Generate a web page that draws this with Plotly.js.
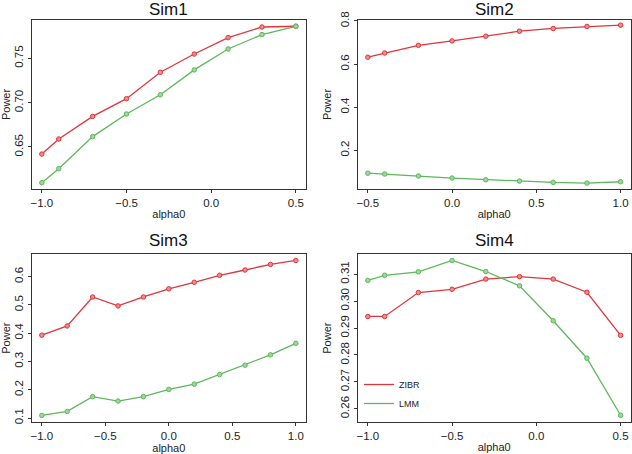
<!DOCTYPE html>
<html>
<head>
<meta charset="utf-8">
<script src="https://cdn.plot.ly/plotly-3.0.1.min.js"></script>
<style>
  body { margin: 0; background: #fff; }
  #chart { width: 632px; height: 454px; }
</style>
</head>
<body>
<div id="chart"></div>
<script>
// Sim1
const sim1X = [-1.0, -0.9, -0.7, -0.5, -0.3, -0.1, 0.1, 0.3, 0.5];
const sim1Zibr = [0.642, 0.659, 0.6845, 0.7045, 0.7343, 0.7549, 0.7734, 0.7854, 0.7862];
const sim1Lmm = [0.6097, 0.6255, 0.6617, 0.6872, 0.709, 0.737, 0.7606, 0.7768, 0.7862];

// Sim2
const sim2X = [-0.5, -0.4, -0.2, 0.0, 0.2, 0.4, 0.6, 0.8, 1.0];
const sim2Zibr = [0.632, 0.6514, 0.6873, 0.7076, 0.7294, 0.7528, 0.7653, 0.7746, 0.7808];
const sim2Lmm = [0.094, 0.0902, 0.0809, 0.0715, 0.0637, 0.0575, 0.0513, 0.0482, 0.0544];

// Sim3
const sim3X = [-1.0, -0.8, -0.6, -0.4, -0.2, 0.0, 0.2, 0.4, 0.6, 0.8, 1.0];
const sim3Zibr = [0.393, 0.4257, 0.528, 0.4965, 0.528, 0.557, 0.58, 0.6047, 0.6234, 0.6433, 0.6572];
const sim3Lmm = [0.1093, 0.1234, 0.1755, 0.160, 0.1755, 0.2012, 0.2199, 0.2537, 0.287, 0.3234, 0.3642];

// Sim4
const sim4X = [-1.0, -0.9, -0.7, -0.5, -0.3, -0.1, 0.1, 0.3, 0.5];
const sim4Zibr = [0.2943, 0.2943, 0.3032, 0.3044, 0.3082, 0.3091, 0.3082, 0.3033, 0.2873];
const sim4Lmm = [0.3077, 0.3096, 0.3109, 0.3151, 0.311, 0.3057, 0.2927, 0.2788, 0.2576];

const titles = ['Sim1', 'Sim2', 'Sim3', 'Sim4'];
const seriesNames = ['ZIBR', 'LMM'];

const RED = '#e0353b';
const GREEN = '#5cb85a';
const RED_FILL = '#f08a8c';
const GREEN_FILL = '#9ed69b';
const AXIS = '#333333';
const FONT = 'Liberation Sans, Arial, sans-serif';

const panels = [
  {x: sim1X, z: sim1Zibr, l: sim1Lmm, xa: 'x', ya: 'y'},
  {x: sim2X, z: sim2Zibr, l: sim2Lmm, xa: 'x2', ya: 'y2'},
  {x: sim3X, z: sim3Zibr, l: sim3Lmm, xa: 'x3', ya: 'y3'},
  {x: sim4X, z: sim4Zibr, l: sim4Lmm, xa: 'x4', ya: 'y4'}
];

function series(x, y, color, fill, xa, ya) {
  return {
    x: x, y: y, xaxis: xa, yaxis: ya,
    type: 'scatter', mode: 'lines+markers',
    line: {color: color, width: 1.3},
    marker: {size: 4.5, color: fill, line: {color: color, width: 1}},
    showlegend: false, hoverinfo: 'x+y'
  };
}

const traces = [];
panels.forEach(p => {
  traces.push(series(p.x, p.z, RED, RED_FILL, p.xa, p.ya));
  traces.push(series(p.x, p.l, GREEN, GREEN_FILL, p.xa, p.ya));
});
// legend entries (line only), shown in Sim4
traces.push({x: [null], y: [null], xaxis: 'x4', yaxis: 'y4', type: 'scatter', mode: 'lines',
  name: seriesNames[0], line: {color: RED, width: 1.3}});
traces.push({x: [null], y: [null], xaxis: 'x4', yaxis: 'y4', type: 'scatter', mode: 'lines',
  name: seriesNames[1], line: {color: GREEN, width: 1.3}});

function xaxis(domain, range, anchor) {
  return {
    domain: domain, range: range, anchor: anchor,
    tickvals: [-1.0, -0.5, 0.0, 0.5, 1.0], tickformat: '.1f',
    ticks: 'outside', ticklen: 3, tickcolor: AXIS, tickwidth: 1,
    showline: true, mirror: true, linecolor: AXIS, linewidth: 1,
    showgrid: false, zeroline: false,
    tickfont: {size: 11.5, color: '#222'},
    title: {text: 'alpha0', font: {size: 11, color: '#222'}, standoff: 2}
  };
}
function yaxis(domain, range, anchor, dtick, fmt) {
  return {
    domain: domain, range: range, anchor: anchor,
    dtick: dtick, tick0: 0, tickformat: fmt, tickangle: -90,
    ticks: 'outside', ticklen: 3, tickcolor: AXIS, tickwidth: 1,
    showline: true, mirror: true, linecolor: AXIS, linewidth: 1,
    showgrid: false, zeroline: false,
    tickfont: {size: 11.5, color: '#222'},
    title: {text: 'Power', font: {size: 11, color: '#222'}, standoff: 5}
  };
}

const colL = [0.0501, 0.4842];
const colR = [0.566, 0.998];
const rowT = [0.5837, 0.956];
const rowB = [0.0705, 0.4399];

const titlePos = [
  {x: (colL[0] + colL[1]) / 2, y: 1 - 9 / 454},
  {x: (colR[0] + colR[1]) / 2, y: 1 - 9 / 454},
  {x: (colL[0] + colL[1]) / 2, y: 1 - 240 / 454},
  {x: (colR[0] + colR[1]) / 2, y: 1 - 240 / 454}
];

const layout = {
  width: 632, height: 454,
  margin: {l: 0, r: 0, t: 0, b: 0},
  paper_bgcolor: '#fff', plot_bgcolor: '#fff',
  font: {family: FONT, color: '#222'},
  xaxis: xaxis(colL, [-1.06, 0.56], 'y'),
  yaxis: yaxis(rowT, [0.6026, 0.7933], 'x', 0.05, '.2f'),
  xaxis2: xaxis(colR, [-0.56, 1.06], 'y2'),
  yaxis2: yaxis(rowT, [0.0207, 0.8047], 'x2', 0.2, '.1f'),
  xaxis3: xaxis(colL, [-1.08, 1.08], 'y3'),
  yaxis3: yaxis(rowB, [0.086, 0.679], 'x3', 0.1, '.1f'),
  xaxis4: xaxis(colR, [-1.06, 0.56], 'y4'),
  yaxis4: yaxis(rowB, [0.2551, 0.3174], 'x4', 0.01, '.2f'),
  showlegend: true,
  legend: {
    x: 0.568, y: 0.185, xanchor: 'left', yanchor: 'top',
    bgcolor: 'rgba(0,0,0,0)', borderwidth: 0,
    font: {size: 9, color: '#222'}, itemwidth: 30, tracegroupgap: 0
  },
  annotations: titles.map((t, i) => ({
    text: t, xref: 'paper', yref: 'paper',
    x: titlePos[i].x, y: titlePos[i].y, xanchor: 'center', yanchor: 'middle',
    showarrow: false, font: {size: 17, color: '#111', weight: 'normal'}
  }))
};

Plotly.newPlot('chart', traces, layout, {displayModeBar: false, staticPlot: true});
</script>
</body>
</html>
